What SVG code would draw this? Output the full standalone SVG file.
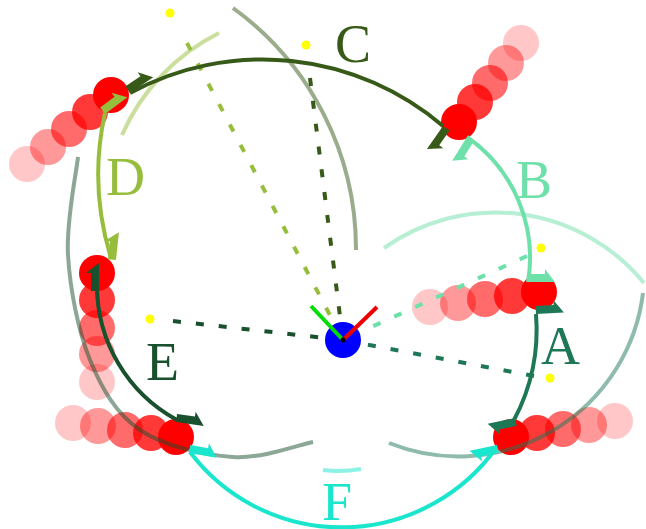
<svg xmlns="http://www.w3.org/2000/svg" width="646" height="529" viewBox="0 0 646 529">
<defs>
<style>
.arc{fill:none;stroke-width:4}
.ghost{fill:none;stroke-width:4;stroke-opacity:0.5}
.dash{fill:none;stroke-width:4;stroke-dasharray:8 15}
.lbl{font-family:"Liberation Serif","Times New Roman",serif;font-size:54px}
.bot{fill:#ff0000}
.yel{fill:#ffff00}
.cA{stroke:#1e7855}.cB{stroke:#6ee0aa}.cC{stroke:#375a19}.cD{stroke:#96be3c}.cE{stroke:#19502d}.cF{stroke:#19e6cd}
</style>
<path id="arr" d="M0,0 L28,0 L18,-13 L18,-8 L0,-8 Z"/>
</defs>
<rect width="646" height="529" fill="#ffffff"/>

<g id="pose-1">
<circle class="bot" cx="27" cy="164" r="18" opacity="0.22"/>
<circle class="bot" cx="48" cy="147" r="18" opacity="0.4"/>
<circle class="bot" cx="69" cy="129" r="18" opacity="0.58"/>
<circle class="bot" cx="90" cy="112" r="18" opacity="0.78"/>
<circle class="bot" cx="111" cy="95" r="18"/>
</g>
<g id="pose-2">
<circle class="bot" cx="521" cy="43" r="18" opacity="0.22"/>
<circle class="bot" cx="506" cy="63" r="18" opacity="0.4"/>
<circle class="bot" cx="490" cy="83" r="18" opacity="0.58"/>
<circle class="bot" cx="475" cy="102" r="18" opacity="0.78"/>
<circle class="bot" cx="459" cy="122" r="18"/>
</g>
<g id="pose-3">
<circle class="bot" cx="430" cy="307" r="18" opacity="0.22"/>
<circle class="bot" cx="458" cy="303" r="18" opacity="0.4"/>
<circle class="bot" cx="485" cy="299" r="18" opacity="0.58"/>
<circle class="bot" cx="512" cy="296" r="18" opacity="0.78"/>
<circle class="bot" cx="539" cy="292" r="18"/>
</g>
<g id="pose-4">
<circle class="bot" cx="615" cy="421" r="18" opacity="0.22"/>
<circle class="bot" cx="589" cy="425" r="18" opacity="0.4"/>
<circle class="bot" cx="563" cy="429" r="18" opacity="0.58"/>
<circle class="bot" cx="537" cy="433" r="18" opacity="0.78"/>
<circle class="bot" cx="511" cy="437" r="18"/>
</g>
<g id="pose-5">
<circle class="bot" cx="73" cy="423" r="18" opacity="0.22"/>
<circle class="bot" cx="98" cy="426" r="18" opacity="0.4"/>
<circle class="bot" cx="125" cy="430" r="18" opacity="0.58"/>
<circle class="bot" cx="151" cy="433" r="18" opacity="0.78"/>
<circle class="bot" cx="176" cy="437" r="18"/>
</g>
<g id="pose-6">
<circle class="bot" cx="97" cy="382" r="18" opacity="0.22"/>
<circle class="bot" cx="97" cy="354" r="18" opacity="0.4"/>
<circle class="bot" cx="97" cy="328" r="18" opacity="0.58"/>
<circle class="bot" cx="97" cy="300" r="18" opacity="0.78"/>
<circle class="bot" cx="97" cy="273" r="18"/>
</g>

<g id="targets">
<circle class="yel" cx="170" cy="13" r="4.5"/>
<circle class="yel" cx="306" cy="45" r="4.5"/>
<circle class="yel" cx="541" cy="248" r="4.5"/>
<circle class="yel" cx="550" cy="378" r="4.5"/>
<circle class="yel" cx="150" cy="319" r="4.5"/>
</g>

<g id="rays">
<path class="dash cD" d="M187,43 L343,340"/>
<path class="dash cC" d="M310,78 L343,340"/>
<path class="dash cB" d="M527,256 L343,340"/>
<path class="dash cA" d="M534,376 L343,340"/>
<path class="dash cE" d="M173,321 L343,340"/>
</g>

<g id="connectors">
<path class="ghost cC" d="M233,8 A298,298 0 0 1 356,250"/>
<path class="ghost cD" d="M219,33 A207,207 0 0 0 122,135"/>
<path class="ghost cB" d="M384,248 A192,192 0 0 1 644,283"/>
<path class="ghost cA" d="M643,293 A186,186 0 0 1 389,443"/>
<path class="ghost cE" d="M78,157 C76.3,173.3 66,221.2 68,255 C70,288.8 78,330.8 90,360 C102,389.2 116.2,413.8 140,430 C163.8,446.2 204.2,455 233,457 C261.8,459 299.7,444.5 313,442"/>
<path class="ghost cF" d="M323,470 Q342,472.5 361,469"/>

<path class="arc cC" d="M130,93 A278,278 0 0 1 443,126"/>
<path class="arc cB" d="M467,137 A147,147 0 0 1 528,282"/>
<path class="arc cA" d="M536,314 A193,193 0 0 1 514,420"/>
<path class="arc cF" d="M496,448 A190,190 0 0 1 190,452"/>
<path class="arc cE" d="M97,285 A153,153 0 0 0 177,420"/>
<path class="arc cD" d="M105,113 A283,283 0 0 0 111,258"/>

<use href="#arr" transform="translate(130,93) rotate(-34)" fill="#375a19"/>
<use href="#arr" transform="translate(105,114) rotate(-37)" fill="#96be3c"/>
<use href="#arr" transform="translate(443,126) rotate(125)" fill="#375a19"/>
<use href="#arr" transform="translate(467,137) rotate(122)" fill="#6ee0aa"/>
<use href="#arr" transform="translate(527,282) rotate(0)" fill="#6ee0aa"/>
<use href="#arr" transform="translate(536,314) rotate(-3)" fill="#1e7855"/>
<use href="#arr" transform="translate(515,418) rotate(168)" fill="#1e7855"/>
<use href="#arr" transform="translate(497,445) rotate(168)" fill="#19e6cd"/>
<use href="#arr" transform="translate(189,453) rotate(10)" fill="#19e6cd"/>
<use href="#arr" transform="translate(176,422) rotate(8)" fill="#19502d"/>
<use href="#arr" transform="translate(99,291) rotate(-90)" fill="#19502d"/>
<use href="#arr" transform="translate(116,260) rotate(-84)" fill="#96be3c"/>
</g>

<g id="robot">
<circle cx="343" cy="340" r="18" fill="#0000ff"/>
<line x1="343" y1="340" x2="311" y2="306" stroke="#00dd00" stroke-width="4"/>
<line x1="343" y1="340" x2="377" y2="307" stroke="#ee0000" stroke-width="4"/>
<circle cx="343" cy="340" r="2.5" fill="#000000"/>
</g>

<g id="labels">
<text class="lbl" x="541" y="364" fill="#1e7855">A</text>
<text class="lbl" x="516" y="198" fill="#6ee0aa">B</text>
<text class="lbl" x="335" y="62" fill="#375a19">C</text>
<text class="lbl" x="106" y="195" fill="#96be3c">D</text>
<text class="lbl" x="146" y="380" fill="#19502d">E</text>
<text class="lbl" x="322" y="520" fill="#19e6cd">F</text>
</g>
</svg>
